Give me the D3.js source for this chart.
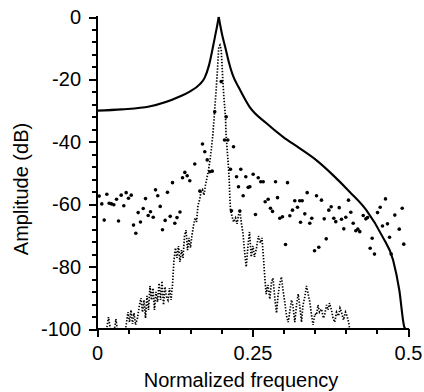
<!DOCTYPE html>
<html>
<head>
<meta charset="utf-8">
<script src="https://cdn.jsdelivr.net/npm/d3@7"></script>
<style>
html,body{margin:0;padding:0;background:#fff;}
svg{display:block;font-family:"Liberation Sans",Arial,Helvetica,sans-serif;}
</style>
</head>
<body>
<svg id="chart" width="424" height="392"></svg>
<script>
// ---- data ----
const xMajorTicks = [0, 0.25, 0.5];
const xTickLabels = ["0", "0.25", "0.5"];
const yMajorTicks = [0, -20, -40, -60, -80, -100];
const yTickLabels = ["0", "-20", "-40", "-60", "-80", "-100"];
const xLabel = "Normalized frequency";
const yLabel = "Amplitude (dB)";
const peakFreq = 0.1957;

// true (model) spectrum – solid line
const trueFreq = [0, 0.04, 0.084, 0.133, 0.149, 0.165, 0.173, 0.18, 0.186, 0.1905, 0.1935, 0.1957, 0.198, 0.201, 0.2066, 0.212, 0.218, 0.228, 0.245, 0.272, 0.299, 0.326, 0.352, 0.379, 0.406, 0.433, 0.459, 0.476, 0.486, 0.494, 0.496];
const trueDb   = [-30, -29.6, -28.7, -25.5, -23.9, -21.6, -19.5, -15.5, -10, -5.5, -2.5, 0, -2.5, -5.5, -10, -14.5, -18.5, -22.6, -28.7, -34, -38.4, -42.1, -45.8, -50.6, -56, -61.9, -70.4, -77.9, -87.5, -99.3, -100];

// periodogram estimate – large dots
const dotFreq = [0.0035,0.0077,0.0116,0.0158,0.0196,0.0233,0.0270,0.0314,0.0346,0.0389,0.0431,0.0469,0.0506,0.0550,0.0587,0.0624,0.0662,0.0699,0.0743,0.0780,0.0823,0.0860,0.0904,0.0941,0.0977,0.1016,0.1053,0.1096,0.1133,0.1177,0.1214,0.1251,0.1286,0.1334,0.1375,0.1412,0.1450,0.1492,0.1572,0.1653,0.1696,0.1733,0.1772,0.1814,0.1852,0.1893,0.1997,0.2077,0.2050,0.2103,0.2195,0.2146,0.2312,0.2243,0.2392,0.2511,0.2275,0.2431,0.2457,0.2350,0.2162,0.2296,0.2548,0.2592,0.2633,0.2672,0.2704,0.2752,0.2789,0.2822,0.2870,0.2902,0.2939,0.2982,0.3031,0.3063,0.3100,0.3143,0.3180,0.3223,0.3260,0.3299,0.3272,0.3341,0.3379,0.3421,0.3453,0.3497,0.3529,0.3566,0.3609,0.3653,0.3685,0.3727,0.3765,0.3807,0.3839,0.3894,0.3931,0.3968,0.4000,0.4043,0.4080,0.4119,0.4161,0.4193,0.4225,0.4280,0.4322,0.4349,0.4392,0.4424,0.4461,0.4510,0.4553,0.4590,0.4638,0.4670,0.4703,0.4730,0.4788,0.4859,0.4907,0.4932];
const dotDb   = [-57.4,-59.9,-65.1,-56.8,-59.7,-59.9,-60.2,-58.4,-65.4,-57.1,-60.5,-56.3,-58.1,-57.1,-66.7,-69.3,-62.7,-65.7,-61.4,-58.2,-63.6,-62.4,-64.2,-55.4,-57.3,-60.7,-68.2,-65.2,-56.2,-63.9,-53.1,-66.1,-64.3,-62.5,-51.5,-49.8,-50.9,-52.5,-47.1,-55.8,-40.7,-43.2,-45.8,-49.6,-49.4,-30.4,-20.7,-32.0,-39.4,-39.4,-41.6,-48.8,-48.8,-51.2,-51.2,-50.4,-54.4,-54.6,-54.4,-57.3,-62.1,-62.2,-63.3,-51.5,-52.8,-52.8,-59.2,-58.4,-61.3,-62.3,-52.8,-57.9,-64.5,-64.0,-72.9,-53.1,-63.7,-61.9,-58.9,-61.0,-58.9,-58.9,-65.8,-63.1,-56.3,-66.1,-64.5,-74.9,-57.3,-73.8,-58.7,-64.7,-71.1,-61.9,-60.8,-64.5,-65.6,-61.1,-64.8,-67.9,-64.2,-58.7,-62.6,-66.1,-68.5,-68.0,-68.8,-63.6,-64.7,-64.3,-74.1,-70.9,-76.0,-62.7,-61.0,-67.0,-58.3,-66.3,-70.6,-76.0,-63.5,-68.0,-61.3,-72.8];

// high-resolution estimate – dotted line
const lineFreq = [0.004,0.0153,0.0185,0.0217,0.0265,0.0305,0.033,0.0394,0.0458,0.0498,0.0523,0.0547,0.0571,0.0595,0.0619,0.0651,0.0683,0.0707,0.0732,0.0756,0.078,0.0804,0.0828,0.0852,0.0876,0.09,0.0924,0.0949,0.0973,0.0997,0.1021,0.1045,0.1069,0.1093,0.1117,0.1141,0.1166,0.119,0.1214,0.1238,0.1262,0.1286,0.131,0.1334,0.1359,0.1383,0.1407,0.1431,0.1455,0.1479,0.1503,0.1527,0.1551,0.1576,0.16,0.1624,0.1648,0.1672,0.1696,0.172,0.1744,0.1768,0.1793,0.1817,0.1841,0.1865,0.1889,0.1913,0.1937,0.1958,0.1977,0.1997,0.2023,0.2039,0.2066,0.2074,0.2082,0.2109,0.2125,0.2135,0.2146,0.2174,0.2195,0.2227,0.2251,0.2275,0.2299,0.2323,0.2344,0.2371,0.2399,0.2428,0.2452,0.2479,0.2508,0.2532,0.2564,0.2596,0.2629,0.2653,0.2677,0.2701,0.272,0.2749,0.2778,0.2805,0.283,0.2862,0.2886,0.291,0.2934,0.2966,0.299,0.3014,0.3047,0.3074,0.3103,0.3127,0.3151,0.318,0.3207,0.3235,0.3264,0.3288,0.3312,0.3341,0.3368,0.3392,0.3421,0.3449,0.3473,0.3502,0.3529,0.3553,0.3577,0.3609,0.3641,0.3662,0.369,0.3714,0.3738,0.377,0.3794,0.3823,0.3851,0.3883,0.3907,0.3931,0.3963,0.3995,0.4019,0.4048,0.4068,0.4092];
const lineDb   = [-103.5,-100.3,-96.2,-100.3,-101.9,-96.8,-101.0,-101.9,-100.3,-94.6,-97.8,-93.9,-98.4,-94.9,-98.7,-96.5,-92.3,-90.1,-94.6,-90.7,-96.5,-89.4,-93.9,-86.2,-90.7,-86.9,-93.9,-88.1,-91.3,-85.3,-90.7,-84.6,-92.3,-86.5,-89.7,-90.7,-86.9,-90.7,-85.9,-77.9,-74.0,-77.2,-73.4,-78.5,-74.7,-77.2,-70.2,-68.3,-74.7,-70.8,-74.0,-69.9,-67.0,-64.4,-65.7,-60.3,-58.7,-56.1,-55.4,-57.1,-53.8,-51.6,-49.0,-45.8,-42.0,-37.2,-30.4,-24.0,-17.0,-9.6,-9.0,-10.6,-20.2,-25.6,-32.1,-37.2,-39.4,-46.8,-52.2,-57.7,-61.9,-64.1,-65.7,-64.4,-66.3,-63.5,-62.5,-66.3,-68.9,-74.7,-80.1,-73.1,-68.9,-76.9,-73.4,-76.9,-74.0,-70.2,-72.4,-70.8,-77.2,-84.3,-88.8,-85.9,-90.4,-84.9,-83.7,-90.7,-94.9,-89.4,-85.9,-83.3,-87.5,-90.7,-95.8,-97.8,-93.9,-90.7,-92.6,-97.8,-92.3,-88.8,-93.3,-97.8,-92.3,-89.7,-86.2,-88.5,-91.3,-95.5,-98.7,-95.2,-95.5,-92.3,-94.6,-93.6,-96.5,-95.2,-92.3,-93.9,-91.7,-93.9,-96.5,-97.8,-94.6,-95.8,-93.3,-94.6,-97.1,-94.6,-95.8,-98.1,-101.0,-105.1];

// ---- drawing ----
const svg = d3.select("#chart");
const x = d3.scaleLinear().domain([0, 0.5]).range([97, 408]);
const y = d3.scaleLinear().domain([-100, 0]).range([329, 17]);

svg.append("defs").append("clipPath").attr("id", "plotclip")
  .append("rect").attr("x", x(0)).attr("y", 0).attr("width", 424 - x(0)).attr("height", y(-100));

const plot = svg.append("g").attr("clip-path", "url(#plotclip)");

// dotted line
plot.append("path")
  .datum(lineFreq.map((f, i) => [f, lineDb[i]]))
  .attr("fill", "none").attr("stroke", "#000").attr("stroke-width", 1.7)
  .attr("stroke-dasharray", "1.4,1.6")
  .attr("d", d3.line().x(d => x(d[0])).y(d => y(d[1])));

// solid line, drawn as two branches so the peak stays a sharp cusp
const truePts = trueFreq.map((f, i) => [f, trueDb[i]]);
const solid = d3.line().x(d => x(d[0])).y(d => y(d[1])).curve(d3.curveMonotoneX);
[truePts.filter(d => d[0] <= peakFreq), truePts.filter(d => d[0] >= peakFreq)].forEach(part => {
  plot.append("path").datum(part)
    .attr("fill", "none").attr("stroke", "#000").attr("stroke-width", 2.1)
    .attr("stroke-linejoin", "miter").attr("d", solid);
});

// large dots
plot.selectAll("circle.dot").data(dotFreq.map((f, i) => [f, dotDb[i]]))
  .join("circle").attr("class", "dot")
  .attr("cx", d => x(d[0])).attr("cy", d => y(d[1])).attr("r", 1.8).attr("fill", "#000");

// axes
const minorX = d3.range(0, 0.5001, 0.05).filter(v => !xMajorTicks.some(m => Math.abs(m - v) < 1e-9));
const minorY = d3.range(-100, 0.001, 4).filter(v => !yMajorTicks.some(m => Math.abs(m - v) < 1e-9));

const xAxis = svg.append("g").attr("transform", `translate(0,${y(-100)})`);
xAxis.call(d3.axisBottom(x).tickValues(minorX).tickSize(5).tickFormat(""));
xAxis.call(g => g.select(".domain").remove());
const xAxisMajor = svg.append("g").attr("transform", `translate(0,${y(-100)})`)
  .call(d3.axisBottom(x).tickValues(xMajorTicks).tickSize(8).tickPadding(9)
    .tickFormat((d, i) => xTickLabels[i]));
xAxisMajor.select(".domain").attr("d", `M${x(0) - 1},0H${x(0.5) + 1}`);

const yAxis = svg.append("g").attr("transform", `translate(${x(0)},0)`);
yAxis.call(d3.axisLeft(y).tickValues(minorY).tickSize(5).tickFormat(""));
yAxis.call(g => g.select(".domain").remove());
const yAxisMajor = svg.append("g").attr("transform", `translate(${x(0)},0)`)
  .call(d3.axisLeft(y).tickValues(yMajorTicks).tickSize(8).tickPadding(8)
    .tickFormat((d, i) => yTickLabels[i]));
yAxisMajor.select(".domain").attr("d", `M0,${y(0) - 1}V${y(-100) + 1}`);

svg.selectAll(".domain, .tick line").attr("stroke", "#000").attr("stroke-width", 2)
  .attr("shape-rendering", "crispEdges");
svg.selectAll(".tick text").attr("font-size", 20).attr("fill", "#000")
  .attr("font-family", "'Liberation Sans', Arial, sans-serif");

svg.append("text").attr("x", 241).attr("y", 387).attr("text-anchor", "middle")
  .attr("font-size", 20).attr("fill", "#000").text(xLabel);
svg.append("text").attr("transform", "translate(27.5,189) rotate(-90)")
  .attr("text-anchor", "middle").attr("font-size", 20).attr("fill", "#000").text(yLabel);
</script>
</body>
</html>
